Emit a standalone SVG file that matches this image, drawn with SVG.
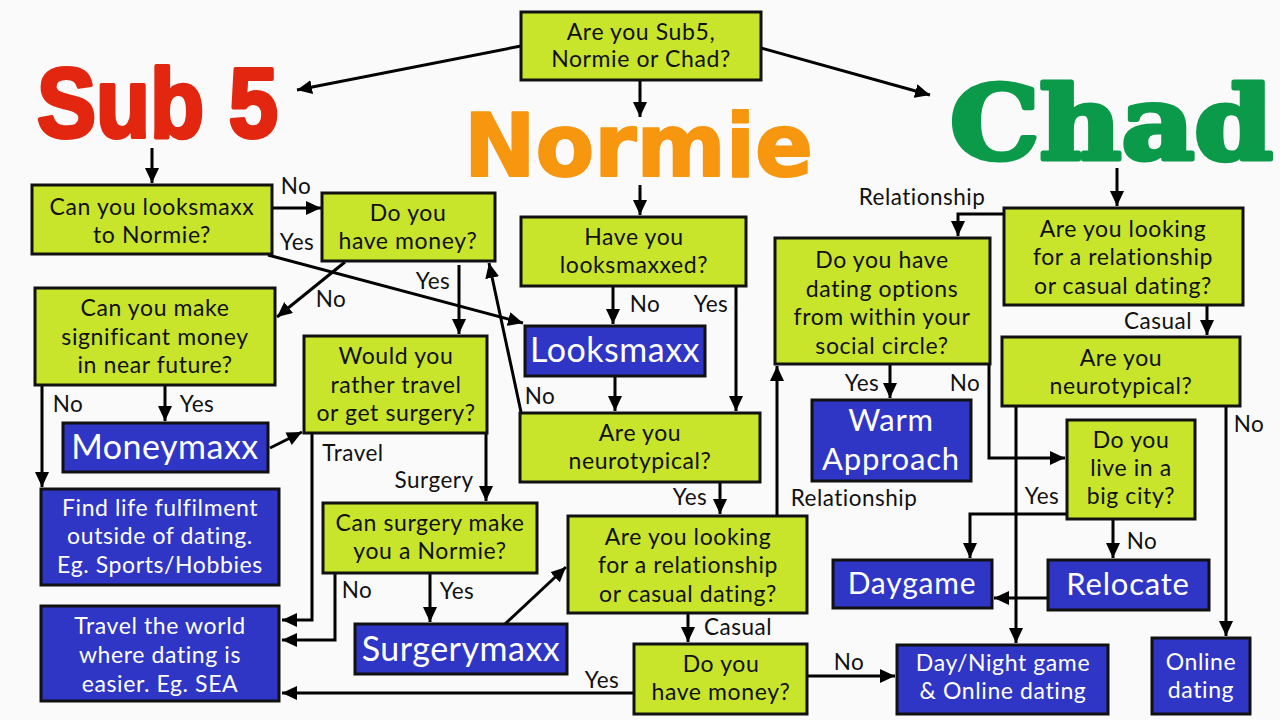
<svg xmlns="http://www.w3.org/2000/svg" width="1280" height="720" viewBox="0 0 1280 720">
<defs>
<marker id="ah" markerUnits="userSpaceOnUse" markerWidth="16" markerHeight="14" refX="15" refY="7" orient="auto">
<path d="M0,0 L15,7 L0,14 z" fill="#000"/>
</marker>
<style>
.q{fill:#c8e52b;stroke:#111;stroke-width:3}
.a{fill:#2f36c6;stroke:#111;stroke-width:3}
.t{font-family:Lato,"Open Sans",sans-serif;font-size:23px;letter-spacing:0.6px;fill:#111;text-anchor:middle}
.w{font-family:Lato,"Open Sans",sans-serif;font-size:23px;letter-spacing:0.6px;fill:#fff;text-anchor:middle}
.b{font-size:34px;letter-spacing:0.5px}
.l{font-family:Lato,"Open Sans",sans-serif;font-size:22.5px;letter-spacing:0.5px;fill:#111;text-anchor:middle}
.c{fill:none;stroke:#000;stroke-width:3;marker-end:url(#ah)}
</style>
</defs>
<rect width="1280" height="720" fill="#fafafa"/>

<g id="titles">
<text x="37" y="137" textLength="241" lengthAdjust="spacingAndGlyphs" font-family="'Liberation Sans',Arial,sans-serif" font-weight="bold" font-size="98" fill="#e3260f" stroke="#e3260f" stroke-width="4" stroke-linejoin="round">Sub 5</text>
<text x="464" y="176" textLength="349" lengthAdjust="spacingAndGlyphs" font-family="'DejaVu Sans',sans-serif" font-weight="bold" font-size="87" fill="#f7960f" stroke="#f7960f" stroke-width="2" stroke-linejoin="round">Normie</text>
<text x="950" y="159" textLength="323" lengthAdjust="spacingAndGlyphs" font-family="'DejaVu Serif',serif" font-weight="bold" font-size="101" fill="#0a9a4a" stroke="#0a9a4a" stroke-width="5" stroke-linejoin="round">Chad</text>
</g>

<g id="connectors">
<path class="c" d="M521,46 L297,90"/>
<path class="c" d="M761,48 L930,95"/>
<path class="c" d="M640,80 L640,117"/>
<path class="c" d="M152,148 L152,183"/>
<path class="c" d="M272,208 L321,208"/>
<path class="c" d="M268,255 L523,323"/>
<path class="c" d="M345,262 L277,317"/>
<path class="c" d="M459,265 L459,334"/>
<path class="c" d="M521,412 L489,263"/>
<path class="c" d="M42,386 L42,487"/>
<path class="c" d="M165,386 L165,421"/>
<path class="c" d="M270,448 L302,432"/>
<path class="c" d="M312,433 L312,620 L282,620"/>
<path class="c" d="M486,433 L486,501"/>
<path class="c" d="M335,573 L335,640 L282,640"/>
<path class="c" d="M430,573 L430,622"/>
<path class="c" d="M505,624 L566,567"/>
<path class="c" d="M640,185 L640,215"/>
<path class="c" d="M613,286 L613,324"/>
<path class="c" d="M736,286 L736,411"/>
<path class="c" d="M615,376 L615,411"/>
<path class="c" d="M720,482 L720,514"/>
<path class="c" d="M777,515 L777,366"/>
<path class="c" d="M688,613 L688,642"/>
<path class="c" d="M634,693 L282,693"/>
<path class="c" d="M807,676 L895,676"/>
<path class="c" d="M1117,168 L1117,206"/>
<path class="c" d="M1004,214 L958,214 L958,236"/>
<path class="c" d="M1207,305 L1207,335"/>
<path class="c" d="M890,365 L890,398"/>
<path class="c" d="M989,365 L989,458 L1065,458"/>
<path class="c" d="M1016,406 L1016,643"/>
<path class="c" d="M1226,406 L1226,636"/>
<path class="c" d="M1067,514 L970,514 L970,558"/>
<path class="c" d="M1113,519 L1113,558"/>
<path class="c" d="M1048,598 L994,598"/>
</g>

<g id="labels">
<text class="l" x="296" y="194">No</text>
<text class="l" x="297" y="250">Yes</text>
<text class="l" x="331" y="307">No</text>
<text class="l" x="433" y="289">Yes</text>
<text class="l" x="68" y="412">No</text>
<text class="l" x="197" y="412">Yes</text>
<text class="l" x="353" y="461">Travel</text>
<text class="l" x="434" y="488">Surgery</text>
<text class="l" x="357" y="598">No</text>
<text class="l" x="457" y="599">Yes</text>
<text class="l" x="645" y="312">No</text>
<text class="l" x="711" y="312">Yes</text>
<text class="l" x="540" y="404">No</text>
<text class="l" x="690" y="505">Yes</text>
<text class="l" x="854" y="506">Relationship</text>
<text class="l" x="738" y="635">Casual</text>
<text class="l" x="602" y="688">Yes</text>
<text class="l" x="849" y="670">No</text>
<text class="l" x="922" y="205">Relationship</text>
<text class="l" x="1158" y="329">Casual</text>
<text class="l" x="862" y="391">Yes</text>
<text class="l" x="965" y="391">No</text>
<text class="l" x="1249" y="432">No</text>
<text class="l" x="1042" y="504">Yes</text>
<text class="l" x="1142" y="549">No</text>
</g>

<g id="n-start"><rect class="q" x="521" y="12" width="240" height="68"/>
<text class="t" x="641" y="40">Are you Sub5,</text><text class="t" x="641" y="67">Normie or Chad?</text></g>

<g id="n-looksmaxx-normie"><rect class="q" x="32" y="185" width="240" height="69"/>
<text class="t" x="152" y="215">Can you looksmaxx</text><text class="t" x="152" y="243">to Normie?</text></g>

<g id="n-money1"><rect class="q" x="322" y="193" width="173" height="68"/>
<text class="t" x="408" y="221">Do you</text><text class="t" x="408" y="249">have money?</text></g>

<g id="n-make-money"><rect class="q" x="35" y="288" width="240" height="97"/>
<text class="t" x="155" y="316">Can you make</text><text class="t" x="155" y="345">significant money</text><text class="t" x="155" y="373">in near future?</text></g>

<g id="n-moneymaxx"><rect class="a" x="63" y="423" width="205" height="49"/>
<text class="w b" x="165" y="459">Moneymaxx</text></g>

<g id="n-travel-surgery"><rect class="q" x="304" y="336" width="183" height="97"/>
<text class="t" x="396" y="364">Would you</text><text class="t" x="396" y="393">rather travel</text><text class="t" x="396" y="421">or get surgery?</text></g>

<g id="n-surgery-normie"><rect class="q" x="323" y="503" width="214" height="70"/>
<text class="t" x="430" y="531">Can surgery make</text><text class="t" x="430" y="559">you a Normie?</text></g>

<g id="n-surgerymaxx"><rect class="a" x="355" y="624" width="212" height="50"/>
<text class="w b" x="461" y="661">Surgerymaxx</text></g>

<g id="n-fulfilment"><rect class="a" x="41" y="489" width="238" height="96"/>
<text class="w" x="160" y="516">Find life fulfilment</text><text class="w" x="160" y="544">outside of dating.</text><text class="w" x="160" y="573">Eg. Sports/Hobbies</text></g>

<g id="n-travel-world"><rect class="a" x="41" y="606" width="238" height="95"/>
<text class="w" x="160" y="634">Travel the world</text><text class="w" x="160" y="663">where dating is</text><text class="w" x="160" y="692">easier. Eg. SEA</text></g>

<g id="n-have-looksmaxxed"><rect class="q" x="521" y="217" width="225" height="69"/>
<text class="t" x="634" y="245">Have you</text><text class="t" x="634" y="273">looksmaxxed?</text></g>

<g id="n-looksmaxx"><rect class="a" x="525" y="326" width="180" height="50"/>
<text class="w b" x="615" y="362">Looksmaxx</text></g>

<g id="n-neuro1"><rect class="q" x="520" y="413" width="240" height="69"/>
<text class="t" x="640" y="441">Are you</text><text class="t" x="640" y="469">neurotypical?</text></g>

<g id="n-rel1"><rect class="q" x="568" y="516" width="239" height="97"/>
<text class="t" x="688" y="545">Are you looking</text><text class="t" x="688" y="573">for a relationship</text><text class="t" x="688" y="602">or casual dating?</text></g>

<g id="n-money2"><rect class="q" x="634" y="644" width="173" height="70"/>
<text class="t" x="721" y="672">Do you</text><text class="t" x="721" y="700">have money?</text></g>

<g id="n-daynight"><rect class="a" x="897" y="645" width="211" height="69"/>
<text class="w" x="1003" y="671">Day/Night game</text><text class="w" x="1003" y="699">&amp; Online dating</text></g>

<g id="n-rel2"><rect class="q" x="1004" y="208" width="239" height="97"/>
<text class="t" x="1123" y="237">Are you looking</text><text class="t" x="1123" y="265">for a relationship</text><text class="t" x="1123" y="294">or casual dating?</text></g>

<g id="n-social"><rect class="q" x="775" y="238" width="215" height="126"/>
<text class="t" x="882" y="268">Do you have</text><text class="t" x="882" y="297">dating options</text><text class="t" x="882" y="325">from within your</text><text class="t" x="882" y="354">social circle?</text></g>

<g id="n-warm"><rect class="a" x="812" y="400" width="159" height="81"/>
<text class="w" x="891" y="431" style="font-size:31px;letter-spacing:0.8px">Warm</text><text class="w" x="891" y="470" style="font-size:31px;letter-spacing:0.8px">Approach</text></g>

<g id="n-neuro2"><rect class="q" x="1002" y="337" width="238" height="69"/>
<text class="t" x="1121" y="366">Are you</text><text class="t" x="1121" y="394">neurotypical?</text></g>

<g id="n-bigcity"><rect class="q" x="1067" y="420" width="128" height="99"/>
<text class="t" x="1131" y="448">Do you</text><text class="t" x="1131" y="476">live in a</text><text class="t" x="1131" y="504">big city?</text></g>

<g id="n-daygame"><rect class="a" x="833" y="560" width="159" height="48"/>
<text class="w" x="912" y="594" style="font-size:30px;letter-spacing:0.8px">Daygame</text></g>

<g id="n-relocate"><rect class="a" x="1048" y="560" width="161" height="50"/>
<text class="w" x="1128" y="595" style="font-size:31px;letter-spacing:0.8px">Relocate</text></g>

<g id="n-online"><rect class="a" x="1152" y="638" width="98" height="76"/>
<text class="w" x="1201" y="670">Online</text><text class="w" x="1201" y="698">dating</text></g>
</svg>
